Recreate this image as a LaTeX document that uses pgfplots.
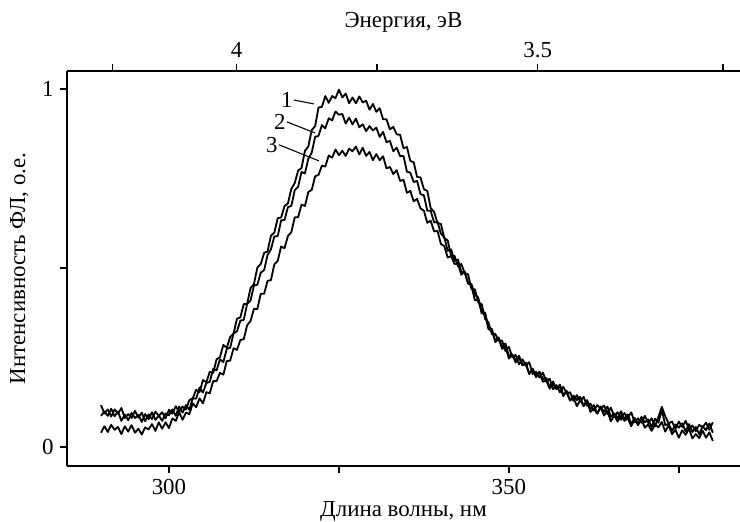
\documentclass[border=0pt]{standalone}
\usepackage{fontspec}
\setmainfont{Liberation Serif}
\usepackage{pgfplots}
\usepackage{pgfplotstable}
\pgfplotsset{compat=1.18}
\pgfplotstableread{
x a b c
290.0 .117 .087 .040
290.5 .094 .099 .058
291.0 .105 .087 .042
291.5 .085 .107 .062
292.0 .105 .086 .048
292.5 .093 .099 .056
293.0 .109 .073 .036
293.5 .081 .091 .058
294.0 .092 .075 .043
294.5 .081 .095 .061
295.0 .101 .081 .040
295.5 .082 .090 .051
296.0 .096 .070 .035
296.5 .072 .092 .055
297.0 .091 .078 .049
297.5 .078 .097 .064
298.0 .099 .076 .045
298.5 .087 .088 .069
299.0 .097 .073 .051
299.5 .080 .094 .069
300.0 .104 .089 .053
300.5 .093 .105 .080
301.0 .114 .087 .073
301.5 .098 .113 .097
302.0 .113 .096 .076
302.5 .105 .117 .096
303.0 .131 .104 .092
303.5 .136 .136 .122
304.0 .160 .135 .111
304.5 .153 .166 .136
305.0 .187 .152 .122
305.5 .181 .179 .153
306.0 .210 .182 .150
306.5 .207 .218 .184
307.0 .245 .214 .184
307.5 .251 .245 .207
308.0 .285 .237 .202
308.5 .277 .274 .240
309.0 .307 .277 .241
309.5 .317 .317 .276
310.0 .358 .323 .271
310.5 .362 .353 .299
311.0 .399 .355 .301
311.5 .400 .400 .340
312.0 .444 .409 .352
312.5 .455 .451 .386
313.0 .501 .453 .385
313.5 .511 .487 .428
314.0 .542 .494 .428
314.5 .546 .536 .464
315.0 .590 .552 .466
315.5 .599 .588 .510
316.0 .639 .589 .520
316.5 .641 .633 .560
317.0 .673 .634 .555
317.5 .680 .670 .589
318.0 .721 .673 .600
318.5 .737 .717 .641
319.0 .772 .727 .642
319.5 .779 .768 .677
320.0 .827 .764 .673
320.5 .839 .805 .712
321.0 .885 .822 .718
321.5 .896 .866 .756
322.0 .948 .869 .760
322.5 .950 .899 .786
323.0 .980 .890 .783
323.5 .961 .918 .814
324.0 .980 .912 .808
324.5 .974 .937 .831
325.0 .998 .928 .815
325.5 .976 .930 .827
326.0 .987 .903 .813
326.5 .960 .920 .833
327.0 .976 .901 .826
327.5 .960 .917 .839
328.0 .979 .893 .817
328.5 .962 .901 .836
329.0 .967 .882 .813
329.5 .942 .896 .824
330.0 .958 .884 .801
330.5 .936 .892 .818
331.0 .946 .866 .801
331.5 .915 .880 .812
332.0 .915 .851 .778
332.5 .887 .855 .782
333.0 .894 .826 .762
333.5 .873 .836 .773
334.0 .872 .812 .743
334.5 .834 .813 .746
335.0 .838 .769 .710
335.5 .799 .766 .715
336.0 .795 .740 .686
336.5 .754 .743 .693
337.0 .753 .706 .666
337.5 .720 .703 .660
338.0 .715 .660 .626
338.5 .667 .660 .632
339.0 .657 .627 .602
339.5 .625 .629 .604
340.0 .623 .596 .567
340.5 .583 .586 .561
341.0 .577 .548 .529
341.5 .534 .552 .533
342.0 .534 .520 .511
342.5 .505 .524 .513
343.0 .511 .489 .481
343.5 .486 .487 .490
344.0 .482 .458 .457
344.5 .441 .455 .450
345.0 .440 .426 .410
345.5 .404 .417 .410
346.0 .399 .373 .377
346.5 .358 .374 .375
347.0 .348 .333 .329
347.5 .315 .330 .325
348.0 .316 .293 .297
348.5 .297 .303 .306
349.0 .297 .279 .274
349.5 .268 .289 .280
350.0 .280 .254 .247
350.5 .251 .259 .258
351.0 .257 .241 .236
351.5 .231 .255 .250
352.0 .245 .228 .229
352.5 .227 .236 .231
353.0 .237 .204 .204
353.5 .204 .216 .219
354.0 .210 .195 .198
354.5 .194 .210 .210
355.0 .208 .190 .182
355.5 .183 .193 .186
356.0 .191 .167 .163
356.5 .161 .183 .176
357.0 .173 .162 .162
357.5 .153 .174 .169
358.0 .168 .147 .142
358.5 .150 .152 .157
359.0 .153 .130 .130
359.5 .129 .144 .139
360.0 .145 .131 .114
360.5 .127 .140 .131
361.0 .140 .114 .115
361.5 .115 .131 .129
362.0 .121 .106 .098
362.5 .102 .117 .107
363.0 .117 .094 .093
363.5 .107 .113 .111
364.0 .116 .098 .088
364.5 .092 .113 .100
365.0 .110 .084 .072
365.5 .086 .094 .088
366.0 .097 .081 .071
366.5 .076 .100 .089
367.0 .095 .078 .073
367.5 .082 .091 .080
368.0 .097 .064 .058
368.5 .069 .081 .078
369.0 .080 .065 .061
369.5 .068 .084 .077
370.0 .087 .069 .054
370.5 .067 .077 .063
371.0 .080 .056 .045
371.5 .058 .079 .063
372.0 .084 .068 .055
372.5 .112 .104 .070
373.0 .086 .061 .043
373.5 .066 .065 .061
374.0 .071 .045 .036
374.5 .051 .063 .048
375.0 .071 .054 .026
375.5 .056 .066 .047
376.0 .073 .044 .034
376.5 .051 .064 .051
377.0 .060 .042 .024
377.5 .044 .056 .036
378.0 .062 .036 .025
378.5 .055 .058 .046
379.0 .068 .047 .026
379.5 .048 .066 .041
380.0 .069 .040 .017
}\spectra

\begin{document}
\begin{tikzpicture}[font=\fontsize{12.6}{15}\selectfont]
\path[use as bounding box] (-36.85pt,-30.25pt) rectangle (370.15pt,256.3pt);
\begin{axis}[
  at={(0pt,0pt)}, anchor=south west,
  scale only axis, width=370.15pt, height=217.25pt,
  xmin=285, xmax=384, ymin=-0.053, ymax=1.05,
  axis x line*=bottom, axis y line*=left,
  axis line style={line width=0.8pt, black},
  every tick/.style={line width=0.8pt, black},
  tick align=outside, major tick length=3.8pt,
  xtick={300,325,350,375}, xticklabels={300,,350,},
  ytick={0,0.5,1}, yticklabels={0,,1},
  /pgf/number format/assume math mode=true,
  xlabel={Длина волны, нм},
  ylabel={Интенсивность ФЛ, о.е.},
  xlabel style={at={(axis description cs:0.5,-0.129)}, anchor=base},
  ylabel style={at={(axis description cs:-0.0624,0.5)}, anchor=base},
  clip=false,
]
\addplot[black, line width=1.0pt, line join=round] table[x=x, y=a] {\spectra};
\addplot[black, line width=1.0pt, line join=round] table[x=x, y=b] {\spectra};
\addplot[black, line width=1.0pt, line join=round] table[x=x, y=c] {\spectra};
\draw[line width=0.6pt] (axis cs:318.38,0.969) -- (axis cs:321.32,0.958);
\node[anchor=east, inner sep=0.5pt] at (axis cs:318.38,0.969) {1};
\draw[line width=0.6pt] (axis cs:317.35,0.908) -- (axis cs:321.47,0.877);
\node[anchor=east, inner sep=0.5pt] at (axis cs:317.35,0.908) {2};
\draw[line width=0.6pt] (axis cs:316.18,0.844) -- (axis cs:322.06,0.799);
\node[anchor=east, inner sep=0.5pt] at (axis cs:316.18,0.844) {3};
\end{axis}
\begin{axis}[
  at={(0pt,0pt)}, anchor=south west,
  scale only axis, width=370.15pt, height=217.25pt,
  xmin=285, xmax=384, ymin=0, ymax=1,
  axis x line*=top, axis y line=none,
  axis line style={line width=0.8pt, black},
  every tick/.style={line width=0.8pt, black},
  tick align=outside, major tick length=3.8pt,
  xtick={291.73,309.96,330.62,354.24,381.49},
  xticklabels={,4,,3.5,},
  /pgf/number format/assume math mode=true,
  xlabel={Энергия, эВ},
  xlabel style={at={(axis description cs:0.5,1.111)}, anchor=base},
]
\end{axis}
\end{tikzpicture}
\end{document}
